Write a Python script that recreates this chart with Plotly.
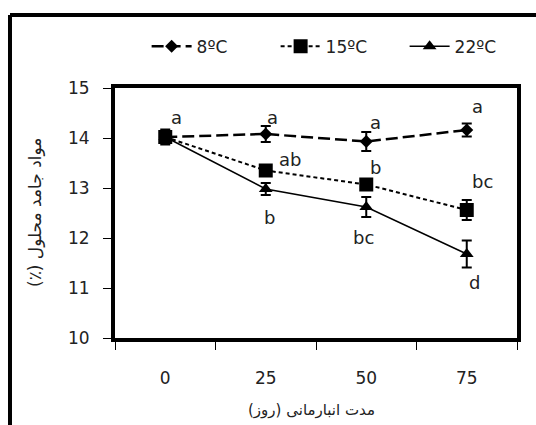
import plotly.graph_objects as go

days = ["0", "25", "50", "75"]
series_names = ["8ºC", "15ºC", "22ºC"]
vals_8 = [14.02, 14.08, 13.93, 14.16]
err_8 = [0.15, 0.16, 0.19, 0.13]
vals_15 = [14.02, 13.35, 13.07, 12.56]
err_15 = [0.10, 0.10, 0.10, 0.20]
vals_22 = [14.02, 12.98, 12.62, 11.68]
err_22 = [0.10, 0.12, 0.20, 0.27]
letters_8 = ["a", "a", "a", "a"]
letters_15 = ["", "ab", "b", "bc"]
letters_22 = ["", "b", "bc", "d"]
x_title = "مدت انبارمانی (روز)"
y_title = "مواد جامد محلول (٪)\u200f"

font = "DejaVu Sans"
fig = go.Figure()

styles = [
    dict(vals=vals_8, err=err_8, dash="12px,5px", width=2.5, symbol="diamond", size=10),
    dict(vals=vals_15, err=err_15, dash="4px,3px", width=2, symbol="square", size=14),
    dict(vals=vals_22, err=err_22, dash="solid", width=1.5, symbol="triangle-up", size=12),
]
for name, st in zip(series_names, styles):
    fig.add_trace(go.Scatter(
        x=days, y=st["vals"], name=name, mode="lines+markers",
        line=dict(color="black", width=st["width"], dash=st["dash"]),
        marker=dict(symbol=st["symbol"], size=st["size"], color="black"),
        error_y=dict(type="data", array=st["err"], visible=True,
                     color="black", thickness=2, width=5),
    ))

# letter annotations: (letters, values, y offset in data units, x shift px)
label_sets = [
    (letters_8, vals_8, [0.40, 0.34, 0.39, 0.48], [11, 7, 9, 11]),
    (letters_15, vals_15, [0, 0.23, 0.35, 0.58], [0, 24, 9, 16]),
    (letters_22, vals_22, [0, -0.56, -0.60, -0.56], [0, 4, -3, 8]),
]
for letters, vals, dy, dx in label_sets:
    for i, (l, v, oy, ox) in enumerate(zip(letters, vals, dy, dx)):
        if l:
            fig.add_annotation(x=i, y=v + oy, xref="x", yref="y", text=l, showarrow=False,
                               xshift=ox, font=dict(family=font, size=18, color="#222"))

# axis titles
fig.add_annotation(xref="paper", yref="paper", x=0.49, y=-0.288, text=x_title,
                   showarrow=False, xanchor="center", yanchor="middle",
                   font=dict(family=font, size=15, color="#222"))
fig.add_annotation(xref="paper", yref="paper", x=-0.199, y=0.5, text=y_title,
                   showarrow=False, xanchor="center", yanchor="middle", textangle=-90,
                   font=dict(family=font, size=17, color="#222"))

# outer frame lines (left and top)
fig.add_shape(type="line", xref="paper", yref="paper", x0=-0.2612, x1=-0.2612,
              y0=-0.35, y1=1.292, line=dict(color="black", width=4))
fig.add_shape(type="line", xref="paper", yref="paper", x0=-0.2612, x1=1.06,
              y0=1.292, y1=1.292, line=dict(color="black", width=4))

fig.update_layout(
    width=536, height=425,
    margin=dict(l=115, r=19, t=88, b=87, autoexpand=False),
    paper_bgcolor="white", plot_bgcolor="white",
    font=dict(family=font, size=16, color="#222"),
    showlegend=True,
    legend=dict(orientation="h", x=0.56, xanchor="center", y=1.165, yanchor="middle",
                font=dict(family=font, size=17, color="#222"),
                entrywidth=74, itemwidth=40, bgcolor="rgba(0,0,0,0)"),
    xaxis=dict(type="category", range=[-0.5, 3.5], showline=True, linecolor="black",
               linewidth=4, mirror=True, ticks="outside", tickson="boundaries",
               ticklen=8, tickwidth=1, tickcolor="black", showgrid=False,
               ticklabelstandoff=22, tickfont=dict(family=font, size=17, color="#222")),
    yaxis=dict(range=[10, 15], dtick=1, showline=True, linecolor="black", linewidth=4,
               mirror=True, ticks="outside", ticklen=8, tickwidth=1, tickcolor="black",
               showgrid=False, zeroline=False, ticklabelstandoff=10,
               tickfont=dict(family=font, size=17, color="#222")),
)

fig.write_html("out.html")
